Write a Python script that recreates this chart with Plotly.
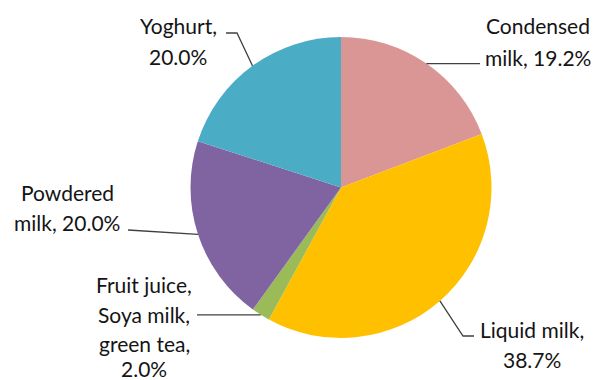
import math
import plotly.graph_objects as go

# Share of dairy / beverage products
labels = ["Condensed milk", "Liquid milk", "Fruit juice, Soya milk, green tea",
          "Powdered milk", "Yoghurt"]
values = [19.2, 38.7, 2.0, 20.0, 20.0]
colors = ["#D99694", "#FFC000", "#9BBB59", "#8064A2", "#4BACC6"]

# Text lines of each outside label
label_lines = [
    ["Condensed", "milk, 19.2%"],
    ["Liquid milk,", "38.7%"],
    ["Fruit juice,", "Soya milk,", "green tea,", "2.0%"],
    ["Powdered", "milk, 20.0%"],
    ["Yoghurt,", "20.0%"],
]

W, H = 597, 380
CX, CY, R = 341.0, 187.5, 150.5


def px(x):
    return x / W


def py(y):
    return 1 - y / H


# label block centre x and the centre y of each text line (pixels)
label_pos = [
    (538, [26, 57]),
    (532, [329, 359]),
    (144, [284, 314, 343, 368.5]),
    (67, [192, 222]),
    (178, [26, 56]),
]

# leader-line bends after leaving the slice (pixel positions); None = same y as anchor
leader_bends = [
    [(480, None)],
    [(463, 336), (474, 336)],
    [(197, None)],
    [(128, 230)],
    [(237, 33), (226, 33)],
]

fig = go.Figure(go.Pie(
    labels=labels,
    values=values,
    sort=False,
    direction="clockwise",
    rotation=0,
    marker=dict(colors=colors, line=dict(width=0)),
    textinfo="none",
    hoverinfo="label+percent",
    showlegend=False,
    domain=dict(x=[px(CX - R), px(CX + R)], y=[py(CY + R), py(CY - R)]),
))

shapes = []
annotations = []
total = sum(values)
cum = 0.0
for i, v in enumerate(values):
    mid = (cum + v / 2) / total * 2 * math.pi
    cum += v
    ax = CX + R * math.sin(mid)
    ay = CY - R * math.cos(mid)
    pts = [(ax, ay)]
    for bx, by in leader_bends[i]:
        pts.append((bx, ay if by is None else by))
    path = "M " + " L ".join(f"{px(x):.5f},{py(y):.5f}" for x, y in pts)
    shapes.append(dict(type="path", xref="paper", yref="paper", path=path,
                       line=dict(color="#404040", width=1.3)))

    lx, ys = label_pos[i]
    for line, ly in zip(label_lines[i], ys):
        annotations.append(dict(
            x=px(lx), y=py(ly), xref="paper", yref="paper",
            text=line, showarrow=False, xanchor="center", yanchor="middle",
            borderpad=0,
            font=dict(family="Lato", size=21, color="#141414"),
        ))

fig.update_layout(
    width=W, height=H,
    margin=dict(l=0, r=0, t=0, b=0),
    paper_bgcolor="white",
    plot_bgcolor="white",
    shapes=shapes,
    annotations=annotations,
)

fig.write_html("out.html")
